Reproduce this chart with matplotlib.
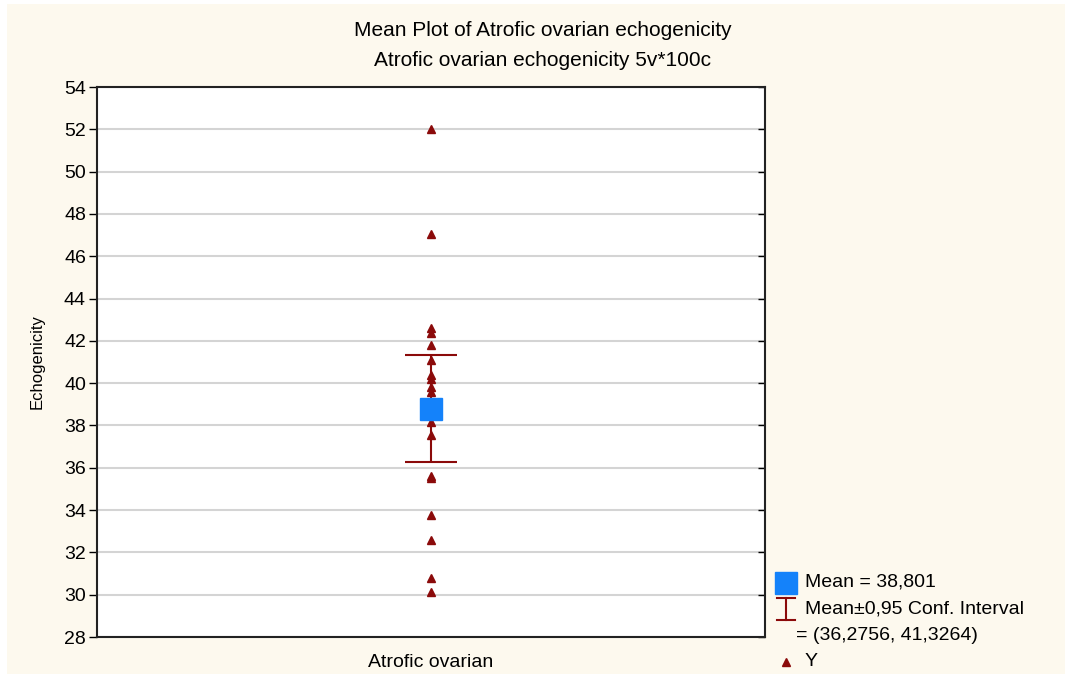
import matplotlib
matplotlib.use("Agg")
import matplotlib.pyplot as plt
from matplotlib.patches import Rectangle
from matplotlib.lines import Line2D

# ----------------------
# Data
# ----------------------
category = "Atrofic ovarian"
y_values = [52.0, 47.05, 42.61, 42.37, 41.81, 41.10, 40.39, 40.20, 39.82,
            39.58, 38.80, 38.60, 38.17, 37.55, 35.60, 35.50, 33.77, 32.59,
            30.79, 30.13]
mean_value = 38.801
ci_low = 36.2756
ci_high = 41.3264
y_ticks = list(range(28, 55, 2))

# ----------------------
# Style
# ----------------------
plt.rcParams["font.family"] = ["Liberation Sans", "DejaVu Sans"]
cream = "#fdf9ee"
dark_red = "#8b0a0a"
blue = "#1482fa"
W, H = 1065, 674


def fx(px):
    return px / W


def fy(py):
    return 1 - py / H


fig = plt.figure(figsize=(W / 100, H / 100), dpi=100)
fig.patch.set_facecolor("white")
fig.patches.append(Rectangle((fx(7), 0), 1, fy(4), transform=fig.transFigure,
                             facecolor=cream, edgecolor="none", zorder=-10))

ax = fig.add_axes([fx(97), fy(637), (765 - 97) / W, (637 - 87) / H])
ax.set_facecolor("white")

# ----------------------
# Marks
# ----------------------
xs = [0] * len(y_values)
ax.plot(xs, y_values, linestyle="none", marker="^", markersize=6,
        color=dark_red, zorder=3)
ax.errorbar([0], [mean_value],
            yerr=[[mean_value - ci_low], [ci_high - mean_value]],
            fmt="none", ecolor=dark_red, elinewidth=1.5, capsize=19,
            capthick=1.5, zorder=2)
ax.plot([0], [mean_value], linestyle="none", marker="s",
        markersize=16, color=blue, zorder=4)

# ----------------------
# Axes
# ----------------------
ax.set_xlim(-1, 1)
ax.set_ylim(28, 54)
ax.set_yticks(y_ticks)
ax.set_yticklabels([str(t) for t in y_ticks], fontsize=14)
ax.set_xticks([0])
ax.set_xticklabels([category], fontsize=14)
ax.tick_params(axis="x", length=0, pad=12)
ax.tick_params(axis="y", direction="out", length=6, width=1, right=True,
               pad=2)
ax.yaxis.grid(True, color="#d4d4d4", linewidth=1.5)
ax.set_axisbelow(True)
for s in ax.spines.values():
    s.set_linewidth(1.5)
    s.set_color("#222222")
ax.set_ylabel("Echogenicity", fontsize=12, labelpad=14)
# right spine ticks point inwards
for t in ax.yaxis.get_major_ticks():
    t.tick2line.set_marker(matplotlib.markers.TICKLEFT)
    t.tick2line.set_markersize(5)

fig.text(fx(543), fy(30), "Mean Plot of Atrofic ovarian echogenicity",
         ha="center", va="center", fontsize=15)
fig.text(fx(543), fy(61), "Atrofic ovarian echogenicity 5v*100c",
         ha="center", va="center", fontsize=15)

# ----------------------
# Legend (drawn by hand, Statistica style)
# ----------------------
leg_fs = 14
fig.add_artist(Line2D([fx(786)], [fy(583)], transform=fig.transFigure,
                      linestyle="none", marker="s", markersize=16, color=blue))
# I-beam for the confidence interval
fig.add_artist(Line2D([fx(786), fx(786)], [fy(598), fy(620)],
                      transform=fig.transFigure, color=dark_red, lw=1.5))
for cy in (598, 620):
    fig.add_artist(Line2D([fx(777), fx(795)], [fy(cy), fy(cy)],
                          transform=fig.transFigure, color=dark_red, lw=1.5))
fig.add_artist(Line2D([fx(786)], [fy(662)], transform=fig.transFigure,
                      linestyle="none", marker="^", markersize=6,
                      color=dark_red))

fig.text(fx(805), fy(582), "Mean = %s" % f"{mean_value:.3f}".replace(".", ","),
         ha="left", va="center", fontsize=leg_fs)
fig.text(fx(805), fy(609), "Mean\u00b10,95 Conf. Interval",
         ha="left", va="center", fontsize=leg_fs)
fig.text(fx(796), fy(636), "= (%s, %s)" % (f"{ci_low:.4f}".replace(".", ","),
                                           f"{ci_high:.4f}".replace(".", ",")),
         ha="left", va="center", fontsize=leg_fs)
fig.text(fx(805), fy(661), "Y", ha="left", va="center", fontsize=leg_fs)

fig.savefig("out.png", dpi=100, facecolor=fig.get_facecolor())
